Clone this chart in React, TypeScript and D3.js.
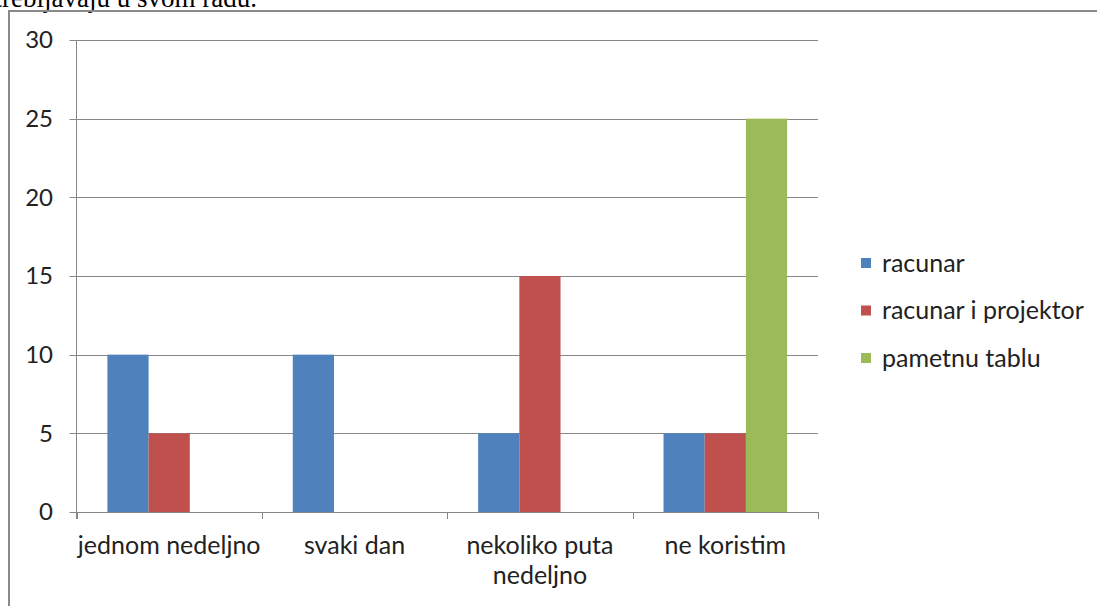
import React from "react";
import * as d3 from "d3";

const categories = ["jednom nedeljno", "svaki dan", "nekoliko puta nedeljno", "ne koristim"];
const categoryLines = [["jednom nedeljno"], ["svaki dan"], ["nekoliko puta", "nedeljno"], ["ne koristim"]];
const seriesNames = ["racunar", "racunar i projektor", "pametnu tablu"];
const racunar = [10, 10, 5, 5];
const racunarIProjektor = [5, 0, 15, 5];
const pametnuTablu = [0, 0, 0, 25];
const yTicks = [0, 5, 10, 15, 20, 25, 30];
const colors = ["#4F81BD", "#C0504D", "#9BBB59"];

const W = 1097;
const H = 606;
const plot = { left: 76.5, right: 818, top: 40, bottom: 512 };
const labelFont = "Lato, 'Open Sans', sans-serif";

export default function App() {
  const series = [racunar, racunarIProjektor, pametnuTablu];
  const x = d3.scaleBand<string>().domain(categories).range([plot.left, plot.right]).paddingInner(0).paddingOuter(0);
  const inner = d3
    .scaleBand<string>()
    .domain(seriesNames)
    .range([0, x.bandwidth()])
    .paddingOuter(0.75)
    .paddingInner(0);
  const y = d3.scaleLinear().domain([0, 30]).range([plot.bottom, plot.top]);
  const bounds = [...categories.map((c) => x(c) as number), plot.right];

  return (
    <svg width={W} height={H} style={{ position: "absolute", left: 0, top: 0, background: "#fff" }}>
      <text x={257} y={7} textAnchor="end" fontFamily="'Liberation Serif', 'DejaVu Serif', serif" fontSize={27} fill="#000">
        upotrebljavaju u svom radu.
      </text>
      <line x1={9} y1={11} x2={W} y2={11} stroke="#8a8a8a" strokeWidth={2} />
      <line x1={9} y1={10} x2={9} y2={H} stroke="#8a8a8a" strokeWidth={2} />

      {yTicks.map((t) => (
        <g key={t}>
          <line x1={plot.left - 7} x2={plot.right} y1={Math.round(y(t)) + 0.5} y2={Math.round(y(t)) + 0.5} stroke="#888" strokeWidth={1} />
          <text x={53} y={y(t)} dy="0.35em" textAnchor="end" fontFamily={labelFont} fontSize={24} fill="#222">
            {t}
          </text>
        </g>
      ))}
      <line x1={plot.left} x2={plot.left} y1={plot.top} y2={plot.bottom + 7} stroke="#888" strokeWidth={1} />
      {bounds.map((b, i) => (
        <line key={i} x1={Math.round(b) + 0.5} x2={Math.round(b) + 0.5} y1={plot.bottom} y2={plot.bottom + 7} stroke="#888" strokeWidth={1} />
      ))}

      {categories.map((c, ci) => (
        <g key={c}>
          {series.map((s, si) =>
            s[ci] > 0 ? (
              <rect
                key={si}
                x={(x(c) as number) + (inner(seriesNames[si]) as number)}
                y={y(s[ci])}
                width={inner.bandwidth()}
                height={y(0) - y(s[ci])}
                fill={colors[si]}
              />
            ) : null
          )}
          <text x={(x(c) as number) + x.bandwidth() / 2} y={554} textAnchor="middle" fontFamily={labelFont} fontSize={25} fill="#222">
            {categoryLines[ci].map((ln, li) => (
              <tspan key={li} x={(x(c) as number) + x.bandwidth() / 2} dy={li === 0 ? 0 : 30}>
                {ln}
              </tspan>
            ))}
          </text>
        </g>
      ))}

      {seriesNames.map((n, i) => (
        <g key={n} transform={`translate(861, ${258 + i * 47.5})`}>
          <rect x={0} y={0} width={10} height={10} fill={colors[i]} />
          <text x={21} y={5} dy="0.35em" fontFamily={labelFont} fontSize={25} fill="#222">
            {n}
          </text>
        </g>
      ))}
    </svg>
  );
}
